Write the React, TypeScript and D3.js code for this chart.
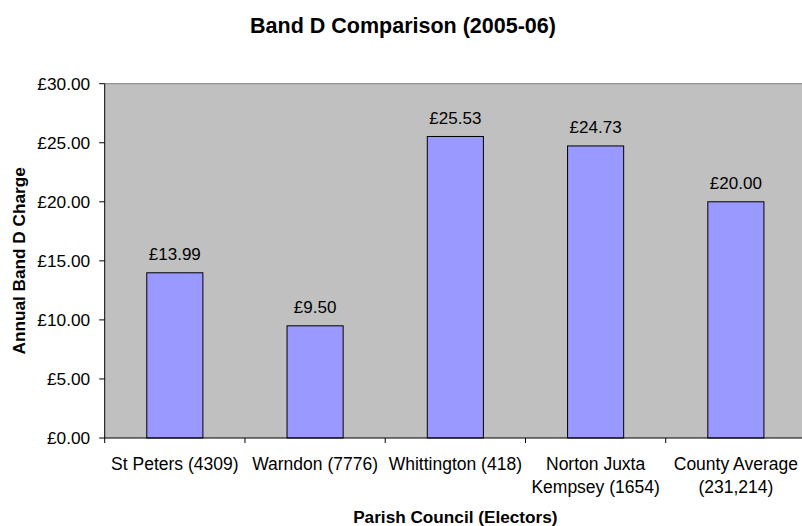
import React from "react";
import * as d3 from "d3";

const categories = [
  ["St Peters (4309)"],
  ["Warndon (7776)"],
  ["Whittington (418)"],
  ["Norton Juxta", "Kempsey (1654)"],
  ["County Average", "(231,214)"],
];
const values = [13.99, 9.5, 25.53, 24.73, 20.0];
const yTicks = [0, 5, 10, 15, 20, 25, 30];

const W = 802;
const H = 526;
const left = 104.7;
const right = 806;
const top = 83.7;
const bottom = 438;
const font = "'Liberation Sans', Arial, sans-serif";

export default function App() {
  const idx = categories.map((_, i) => String(i));
  const x = d3.scaleBand<string>().domain(idx).range([left, right]).paddingInner(0).paddingOuter(0);
  const y = d3.scaleLinear().domain([0, 30]).range([bottom, top]);
  const bw = x.bandwidth();
  const fmt = (v: number) => "£" + d3.format(".2f")(v);
  return (
    <svg width={W} height={H} style={{ position: "absolute", left: 0, top: 0 }} fontFamily={font}>
      <rect x={0} y={0} width={W} height={H} fill="#fff" />
      <text x={403} y={33} textAnchor="middle" fontSize={21.5} fontWeight="bold">Band D Comparison (2005-06)</text>
      <rect x={left} y={top} width={right - left} height={bottom - top} fill="#C0C0C0" />
      <line x1={left} x2={right} y1={top} y2={top} stroke="#808080" strokeWidth={1} />
      {values.map((v, i) => (
        <g key={i}>
          <rect
            x={(x(String(i)) as number) + bw * 0.3}
            y={y(v)}
            width={bw * 0.4}
            height={bottom - y(v)}
            fill="#9999FF"
            stroke="#000"
            strokeWidth={1}
          />
          <text x={(x(String(i)) as number) + bw / 2} y={y(v) - 12.7} textAnchor="middle" fontSize={17}>{fmt(v)}</text>
        </g>
      ))}
      <line x1={left} x2={left} y1={top} y2={bottom} stroke="#000" />
      <line x1={left} x2={right} y1={bottom} y2={bottom} stroke="#000" />
      {yTicks.map((t) => (
        <g key={t}>
          <line x1={left - 5.5} x2={left} y1={y(t)} y2={y(t)} stroke="#000" />
          <text x={left - 14.5} y={y(t) + 6.3} textAnchor="end" fontSize={17.3}>{fmt(t)}</text>
        </g>
      ))}
      {idx.map((d) => (
        <line key={d} x1={x(d) as number} x2={x(d) as number} y1={bottom} y2={bottom + 5} stroke="#000" />
      ))}
      {categories.map((lines, i) => (
        <text key={i} x={(x(String(i)) as number) + bw / 2} y={470} textAnchor="middle" fontSize={17.5}>
          {lines.map((l, j) => (
            <tspan key={j} x={(x(String(i)) as number) + bw / 2} dy={j === 0 ? 0 : 23}>{l}</tspan>
          ))}
        </text>
      ))}
      <text x={(left + right) / 2} y={523} textAnchor="middle" fontSize={17.2} fontWeight="bold">Parish Council (Electors)</text>
      <text transform={`translate(25, ${(top + bottom) / 2}) rotate(-90)`} textAnchor="middle" fontSize={17.2} fontWeight="bold">Annual Band D Charge</text>
    </svg>
  );
}
